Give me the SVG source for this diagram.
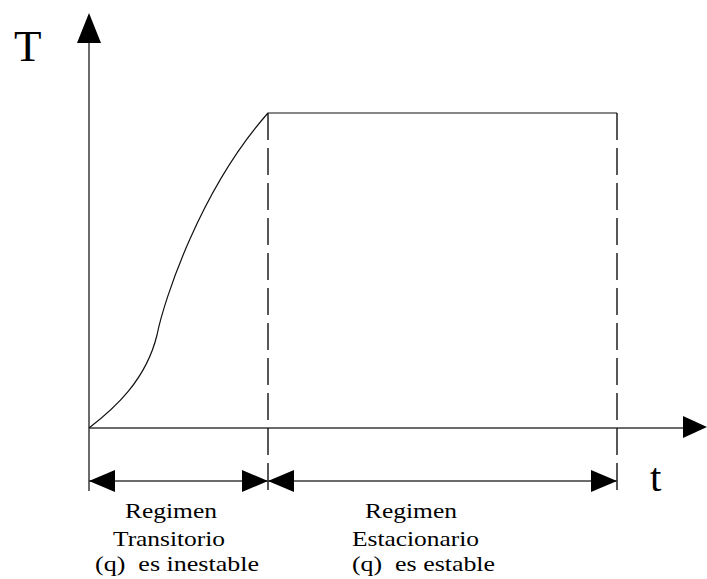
<svg xmlns="http://www.w3.org/2000/svg" xmlns:xlink="http://www.w3.org/1999/xlink" width="707" height="579" viewBox="0 0 707 579">
  <style>
    .axis { stroke: #3a3a3a; stroke-width: 1.5; fill: none; }
    .line { stroke: #111; stroke-width: 1.2; fill: none; }
    .dash { stroke: #111; stroke-width: 1.4; fill: none; stroke-dasharray: 27 8; }
    .dim { stroke: #3a3a3a; stroke-width: 1.4; fill: none; }
    .head { fill: #000; stroke: none; }
    .lbl { font-family: "Liberation Serif", "Times New Roman", serif; fill: #000; }
    .cap { font-size: 22px; }
  </style>
  <defs>
    <!-- arrowhead pointing right, tip at origin -->
    <polygon id="headR" class="head" points="0,0 -26,-11 -26,11"/>
  </defs>

  <rect width="707" height="579" fill="#fff"/>

  <!-- coordinate axes -->
  <g id="axes">
    <line class="axis" x1="89" y1="40" x2="89" y2="491"/>
    <line class="axis" x1="89" y1="428" x2="685" y2="428"/>
    <polygon class="head" points="89,13 77,43 101,43"/>
    <polygon class="head" points="707,427 683,416 683,438"/>
  </g>

  <!-- temperature curve: transient rise, then steady plateau -->
  <g id="curve">
    <path class="line" d="M89,428 C115,408 146,380 157,335 C164,300 200,190 268,113 L617,113"/>
  </g>

  <!-- regime boundaries -->
  <g id="boundaries">
    <line class="dash" x1="268" y1="113" x2="268" y2="491"/>
    <line class="dash" x1="617" y1="113" x2="617" y2="491"/>
  </g>

  <!-- dimension lines for each regime -->
  <g id="dimensions">
    <line class="dim" x1="89" y1="481" x2="617" y2="481"/>
    <use xlink:href="#headR" transform="translate(89,481) rotate(180)"/>
    <use xlink:href="#headR" transform="translate(268,481)"/>
    <use xlink:href="#headR" transform="translate(268,481) rotate(180)"/>
    <use xlink:href="#headR" transform="translate(617,481)"/>
  </g>

  <!-- axis labels -->
  <g id="axis-labels" class="lbl">
    <text x="14" y="61" font-size="45">T</text>
    <text x="650" y="491" font-size="41">t</text>
  </g>

  <!-- regime captions -->
  <g id="transitorio" class="lbl cap">
    <text x="125" y="518" textLength="92" lengthAdjust="spacingAndGlyphs">Regimen</text>
    <text x="113" y="546" textLength="112" lengthAdjust="spacingAndGlyphs">Transitorio</text>
    <text x="95" y="571" textLength="164" lengthAdjust="spacingAndGlyphs" xml:space="preserve">(q)  es inestable</text>
  </g>
  <g id="estacionario" class="lbl cap">
    <text x="365" y="518" textLength="92" lengthAdjust="spacingAndGlyphs">Regimen</text>
    <text x="352" y="546" textLength="127" lengthAdjust="spacingAndGlyphs">Estacionario</text>
    <text x="352" y="571" textLength="143" lengthAdjust="spacingAndGlyphs" xml:space="preserve">(q)  es estable</text>
  </g>
</svg>
